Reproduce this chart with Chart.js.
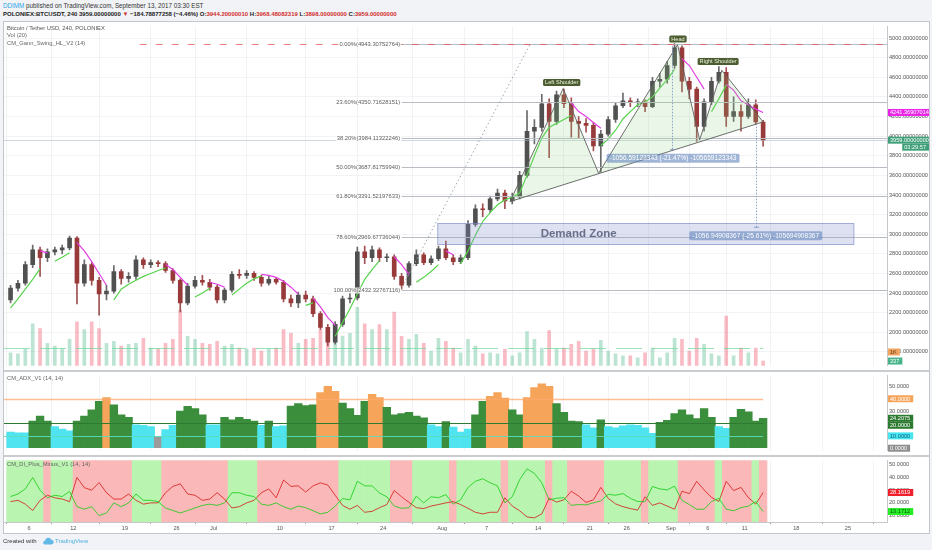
<!DOCTYPE html>
<html>
<head>
<meta charset="utf-8">
<script src="https://cdn.jsdelivr.net/npm/chart.js@4.4.1/dist/chart.umd.min.js"></script>
<style>
  body { margin: 0; width: 932px; height: 550px; background: #f1f3f6; position: relative; overflow: hidden;
         font-family: "Liberation Sans", Arial, sans-serif; }
  .abs { position: absolute; white-space: nowrap; }
  #frame { left: 3px; top: 21px; width: 927px; height: 513px; box-sizing: border-box; border: 1px solid #c3c7cc; background: #fff; }
  canvas { position: absolute; left: 0; }
  .sep { position: absolute; left: 4px; width: 925px; height: 1.5px; background: #c9cdd2; }
  .legend { font-size: 5.8px; color: #666; line-height: 7.8px; }
</style>
</head>
<body>
<div class="abs" style="left:3px;top:1.5px;font-size:6.3px;color:#333;"><span style="color:#2ea7e6">DDIMM</span> published on TradingView.com, September 13, 2017 03:30 EST</div>
<div class="abs" style="left:3px;top:10.5px;font-size:6px;font-weight:bold;color:#222;">POLONIEX:BTCUSDT, 240 3959.00000000 <span style="color:#d32f2f">&#9660;</span> &minus;184.78877258 (&minus;4.46%) O:<span style="color:#d32f2f">3944.20000010</span> H:<span style="color:#d32f2f">3968.48082319</span> L:<span style="color:#d32f2f">3898.00000000</span> C:<span style="color:#d32f2f">3959.00000000</span></div>
<div id="frame" class="abs"></div>
<canvas id="cMain" width="932" height="348" style="top:22px"></canvas>
<div class="sep" style="top:370px"></div>
<canvas id="cAdx" width="932" height="84" style="top:371px"></canvas>
<div class="sep" style="top:455px"></div>
<canvas id="cDi" width="932" height="77" style="top:456px"></canvas>
<div class="abs legend" style="left:7px;top:24.5px;"><span style="color:#555">Bitcoin / Tether USD, 240, POLONIEX</span><br>Vol (20)<br>CM_Gann_Swing_HL_V2 (14)</div>
<div class="abs legend" style="left:7px;top:374.5px;">CM_ADX_V1 (14, 14)</div>
<div class="abs legend" style="left:7px;top:460.5px;">CM_DI_Plus_Minus_V1 (14, 14)</div>
<div class="abs" style="left:3px;top:537.5px;font-size:6px;color:#333;">Created with</div>
<svg class="abs" style="left:42px;top:537px" width="12" height="8" viewBox="0 0 12 8"><path d="M3 7.5h6.3a2.4 2.4 0 0 0 0-4.8 3.3 3.3 0 0 0-6.3 1A1.9 1.9 0 0 0 3 7.5z" fill="#62b9e6"/></svg>
<div class="abs" style="left:55px;top:537.5px;font-size:6px;color:#4fb0e3;">TradingView</div>

<script>
// daily candles, day numbers counted from Jun 1 2017 (first candle = Jun 3)
const firstDay = 2;
const opens = [
  2330, 2450, 2500, 2690, 2840, 2760, 2820, 2840, 2860, 2960,
  2500, 2690, 2530, 2390, 2420, 2620, 2550, 2570, 2740, 2690,
  2710, 2700, 2630, 2530, 2300, 2470, 2530, 2510, 2460, 2330,
  2430, 2590, 2580, 2600, 2560, 2500, 2540, 2510, 2340, 2300,
  2380, 2340, 2190, 2050, 1900, 2080, 2340, 2350, 2820, 2760,
  2840, 2760, 2770, 2570, 2480, 2700, 2790, 2710, 2750, 2850,
  2760, 2720, 2760, 3100, 3260, 3250, 3360, 3420, 3340, 3380,
  3600, 4050, 4090, 4330, 4150, 4420, 4330, 4150, 4130, 4110,
  3900, 4020, 4170, 4310, 4360, 4340, 4350, 4300, 4560, 4580,
  4720, 4900, 4560, 4480, 4100, 4350, 4560, 4650, 4200, 4250,
  4200, 4320, 4144
];
const highs = [
  2480, 2530, 2720, 2890, 2870, 2850, 2870, 2890, 2980, 2975,
  2740, 2710, 2560, 2480, 2680, 2640, 2610, 2780, 2760, 2740,
  2730, 2720, 2650, 2545, 2500, 2570, 2580, 2540, 2480, 2450,
  2620, 2640, 2630, 2620, 2580, 2570, 2560, 2530, 2380, 2410,
  2420, 2370, 2210, 2080, 2110, 2370, 2410, 2870, 2880, 2880,
  2860, 2800, 2790, 2600, 2720, 2840, 2810, 2780, 2880, 2930,
  2790, 2790, 3140, 3300, 3310, 3390, 3460, 3450, 3420, 3640,
  4260, 4170, 4427, 4380, 4460, 4480, 4390, 4200, 4180, 4140,
  4060, 4200, 4340, 4440, 4390, 4380, 4370, 4600, 4640, 4760,
  4943, 4920, 4600, 4500, 4380, 4600, 4708, 4700, 4400, 4320,
  4380, 4370, 4160
];
const lows = [
  2300, 2420, 2480, 2660, 2570, 2720, 2790, 2800, 2840, 2290,
  2470, 2480, 2174, 2330, 2400, 2490, 2510, 2540, 2650, 2660,
  2670, 2610, 2500, 2207, 2280, 2450, 2480, 2430, 2300, 2300,
  2410, 2550, 2550, 2530, 2470, 2480, 2490, 2310, 2260, 2250,
  2310, 2160, 2030, 1860, 1880, 2060, 2300, 2330, 2700, 2720,
  2720, 2720, 2540, 2440, 2460, 2680, 2690, 2690, 2730, 2740,
  2690, 2700, 2740, 3080, 3180, 3220, 3340, 3260, 3310, 3360,
  3580, 3920, 4050, 3780, 4120, 4290, 3990, 3980, 4040, 3850,
  3632, 4000, 4140, 4290, 4300, 4300, 4250, 4290, 4500, 4540,
  4690, 4450, 4380, 3946, 4050, 4320, 4540, 4100, 4150, 4050,
  4180, 4120, 3898
];
const closes = [
  2450, 2500, 2690, 2840, 2760, 2820, 2840, 2860, 2960, 2500,
  2690, 2530, 2390, 2420, 2620, 2550, 2570, 2740, 2690, 2710,
  2700, 2630, 2530, 2300, 2470, 2530, 2510, 2460, 2330, 2430,
  2590, 2580, 2600, 2560, 2500, 2540, 2510, 2340, 2300, 2380,
  2340, 2190, 2050, 1900, 2080, 2340, 2350, 2820, 2760, 2840,
  2760, 2770, 2570, 2480, 2700, 2790, 2710, 2750, 2850, 2760,
  2720, 2760, 3100, 3260, 3250, 3360, 3420, 3340, 3380, 3600,
  4050, 4090, 4330, 4150, 4420, 4330, 4150, 4130, 4110, 3900,
  4020, 4170, 4310, 4360, 4340, 4350, 4300, 4560, 4580, 4720,
  4900, 4560, 4480, 4100, 4350, 4560, 4650, 4200, 4250, 4200,
  4320, 4144, 3959
];
const volumes = [
  930, 860, 1210, 3070, 2710, 1640, 1430, 1210, 1930, 3210,
  2640, 3210, 2710, 1640, 1790, 1430, 1570, 1640, 2000, 1290,
  1210, 1640, 1930, 4070, 2140, 1930, 1640, 1570, 1790, 1430,
  1570, 1290, 1210, 1290, 1070, 1210, 1290, 2640, 2360, 1640,
  1930, 2000, 2640, 2710, 2360, 2140, 2360, 4280, 3070, 2640,
  3000, 2640, 3930, 2140, 1930, 2290, 1640, 1070, 2000, 1790,
  1290, 930, 1930, 1430, 860, 930, 860, 1210, 710, 930,
  2500, 1930, 1290, 2570, 1210, 1290, 1570, 1790, 1070, 1210,
  1860, 1070, 860, 710, 710, 570, 930, 1290, 570, 930,
  2000, 1930, 1070, 2000, 1570, 860, 710, 3640, 710, 1290,
  930, 1290, 337
];
// CM_Gann_Swing_HL line: green while swinging up, magenta while swinging down
const gannUp = [
  2250, 2340, 2440, 2540, 2650, null, 2725, 2765, 2810, null,
  null, null, null, null, 2330, 2440, 2490, 2530, 2570, 2600,
  2630, 2655, null, null, null, 2360, 2400, 2450, null, null,
  2380, 2440, 2500, 2545, 2575, null, null, null, null, null,
  2275, 2300, null, null, 1960, 2100, 2240, 2390, 2540, 2640,
  2730, null, null, null, null, 2510, 2560, 2620, 2690, null,
  null, 2700, 2830, 2990, 3130, 3220, 3300, 3350, 3380, 3420,
  3600, 3800, 3980, 4090, 4130, 4170, 4210, null, null, null,
  3905, 3970, 4060, 4175, 4250, 4320, 4350, 4400, 4490, 4575,
  4680, null, null, null, null, 4250, 4380, 4520, null, null,
  null, null, null
];
const gannDown = [
  null, null, null, null, 2830, 2810, null, null, null, 2915,
  2830, 2720, 2600, 2480, null, null, null, null, null, null,
  null, 2690, 2640, 2560, 2480, null, null, 2510, 2490, 2460,
  null, null, null, null, 2590, 2580, 2560, 2520, 2460, 2390,
  null, 2350, 2260, 2150, 2070, null, null, null, null, null,
  null, null, 2770, 2690, 2590, null, null, null, null, 2830,
  2790, null, null, null, null, null, null, null, null, null,
  null, null, null, null, null, null, 4340, 4250, 4200, 4140,
  4080, null, null, null, null, null, null, null, null, null,
  null, 4790, 4720, 4600, 4480, null, null, 4530, 4470, 4360,
  4320, 4275, 4241.37
];
const adx = [
  13, 12.5, 12.5, 22, 26, 22, 17.5, 15.5, 14, 22,
  26, 31, 38, 41, 35, 27, 25, 19, 18.6, 17.5,
  9.5, 15, 18.6, 30, 33.8, 32, 27, 19, 19, 25,
  23, 25, 23.4, 22, 18.6, 22, 17.5, 18, 34, 36,
  34.5, 35, 45, 50, 46, 36.5, 32, 26.5, 38, 43.5,
  41, 33, 27, 28, 29, 26, 24.6, 19, 17.4, 21.5,
  17, 13, 15.5, 27, 38, 42, 45, 40.5, 31, 27,
  41, 49, 52, 50, 36, 29, 22, 21.5, 19, 16.5,
  23, 17.5, 16.5, 18, 19, 18.5, 16.5, 12, 21, 22.5,
  28, 31, 27, 24, 32, 25, 17.5, 16, 25, 31.5,
  29.5, 22, 24.2075
];
const diPlus = [
  25, 27, 31, 40, 30, 24, 26, 25, 29, 17,
  15, 17, 10, 12, 20, 17, 20, 27, 22, 22,
  21, 16, 14, 12, 14, 16, 18, 19, 18, 20,
  28, 28, 26, 25, 19, 18, 20, 17, 15, 17.5,
  16.2, 13.8, 11.3, 12.6, 17.5, 23.4, 22.4, 37, 33.4, 33.4,
  27.8, 24.8, 17.5, 15.7, 16.2, 25.3, 20, 24.8, 24.1, 26.5,
  19, 22.4, 32.2, 37, 39, 35.8, 33.4, 20, 24.8, 38.3,
  46.9, 43.2, 35.8, 22.4, 23.6, 24.1, 18, 18.7, 18.4, 20,
  21.6, 26.8, 26, 27.3, 23.6, 21.1, 20.9, 32.9, 31, 30.2,
  33.2, 21.9, 18.7, 15, 15, 21.1, 23.6, 15, 13.8, 16.2,
  17.5, 21, 13.1712
];
const diMinus = [
  21, 22, 19, 14, 22, 26, 24, 23, 21, 40,
  32, 30, 36, 28, 23, 23, 27, 22, 19, 20,
  20, 28, 33, 35, 27, 26, 22, 23, 28, 23,
  16, 17, 20, 22, 28, 31, 24, 38, 33, 33.4,
  28.5, 33.4, 35.8, 34, 26, 18, 15, 18, 12.6, 13.3,
  16.2, 18.7, 29.7, 24.8, 20.4, 16.2, 15.5, 17.5, 18.7, 20,
  21, 18.7, 15.7, 12.6, 11.3, 12.6, 12.6, 24, 17.5, 13.8,
  8.9, 8.2, 11.3, 23.6, 20.6, 22.4, 29.2, 25.3, 20.4, 22.4,
  32.2, 23.6, 19.2, 17, 15.5, 14.3, 24.8, 18, 20, 17.5,
  15, 29.2, 27.3, 37, 30.2, 24.3, 21.1, 37, 29.7, 32.2,
  24.1, 19, 28.1619
];
const tickDays = [5, 11, 18, 25, 30, 39, 46, 53, 61, 67, 74, 81, 86, 92, 97, 102, 109, 116];
const tickLabels = ['6', '12', '19', '26', 'Jul', '10', '17', '24', 'Aug', '7', '14', '21', '26', 'Sep', '6', '11', '18', '25'];
const fibPercents = ['0.00%', '23.60%', '38.20%', '50.00%', '61.80%', '78.60%', '100.00%'];
const fibValues = [4943.30752764, 4350.71628151, 3984.11322246, 3687.81759940, 3391.52197633, 2969.67736044, 2432.32767116];
const adxLevels = [40, 20, 10];

// drawings on the price pane, in day / price coordinates
const fibStartDay = 55.3, fibEndDay = 72.9;
const demandZone = { from: 60.4, to: 116.8, low: 2896, high: 3118, labelDay: 79.5, labelPrice: 3007 };
const hsPoints = [[70.2, 3333], [77.4, 4486], [82.2, 3621], [92.9, 4933], [95.9, 3963], [98.9, 4672], [104.5, 4145]];
const hsLabels = [
  { text: 'Left Shoulder', day: 77.2, price: 4548 },
  { text: 'Head', day: 92.96, price: 4990 },
  { text: 'Right Shoulder', day: 98.4, price: 4761 }
];
const measures = [
  { day: 92.2, from: 4921, to: 3864.6, text: '-1056.59123343 (-21.47%) -105659123343', boxDay: 92.3, boxPrice: 3775 },
  { day: 103.5, from: 4127, to: 3070, text: '-1056.94908367 (-25.61%) -105694908367', boxDay: 103.5, boxPrice: 2985 }
];
const swingHigh = 4943, swingHighFrom = 20, swingLow = 1840;
const lastPrice = 3959, gannLast = 4241.36907014;

const days = closes.map((_, i) => firstDay + i + 0.5);
const xMin = 1.611, xMax = 121.29;
const diMin = 4.93, diMax = 53.5;

const FONT = '"Liberation Sans", Arial, sans-serif';
Chart.defaults.font.family = FONT;
const tickFont = { size: 5.6 };

const candleColors = closes.map((c, i) => c >= opens[i] ? '#505050' : '#983a3a');
const wickColors = closes.map((c, i) => c >= opens[i] ? '#6a6a6a' : '#a05050');
const volColors = closes.map((c, i) => c >= opens[i] ? 'rgba(96,190,150,0.42)' : 'rgba(242,110,130,0.47)');
const adxColors = adx.map(v => v < 10 ? '#9a9a9a' : v < 20 ? '#4fe4ef' : v <= 40 ? '#3b8e3b' : '#f6a45a');
const diColors = diPlus.map((p, i) => p >= diMinus[i] ? '#b9f4b0' : '#fbb8b8');

function xScale(showLabels) {
  return {
    type: 'linear', min: xMin, max: xMax, offset: false,
    afterBuildTicks: a => { a.ticks = tickDays.map(v => ({ value: v })); },
    afterFit: a => { a.height = showLabels ? 11 : 0; },
    ticks: { display: showLabels, autoSkip: false, maxRotation: 0, font: tickFont, color: '#555', padding: 1,
             callback: v => tickLabels[tickDays.indexOf(v)] },
    grid: { color: '#f0f2f5', drawTicks: showLabels, tickLength: 2, tickColor: '#9a9a9a' },
    border: { display: showLabels, color: '#c4c8cc' }
  };
}
function yScale(min, max, step, digits, grid) {
  return {
    position: 'right', min: min, max: max,
    afterFit: a => { a.width = 42; },
    ticks: { stepSize: step, includeBounds: false, font: tickFont, color: '#555', padding: 1,
             callback: v => v.toFixed(digits) },
    grid: { color: '#f1f3f6', drawOnChartArea: grid, tickLength: 1, tickColor: '#9a9a9a' },
    border: { color: '#c4c8cc' }
  };
}
const baseOptions = {
  responsive: false, animation: false, events: [],
  layout: { padding: { left: 4, right: 3, top: 0, bottom: 0 } },
  plugins: { legend: { display: false }, tooltip: { enabled: false } }
};

function seg(ctx, x1, y1, x2, y2) {
  ctx.beginPath(); ctx.moveTo(x1, y1); ctx.lineTo(x2, y2); ctx.stroke();
}
function tag(ctx, cx, cy, text, bg, fg, font, h, pad) {
  ctx.font = font;
  const w = ctx.measureText(text).width + pad * 2;
  ctx.fillStyle = bg;
  ctx.beginPath();
  if (ctx.roundRect) ctx.roundRect(cx - w / 2, cy - h / 2, w, h, 1.5); else ctx.rect(cx - w / 2, cy - h / 2, w, h);
  ctx.fill();
  ctx.fillStyle = fg; ctx.textAlign = 'center'; ctx.textBaseline = 'middle';
  ctx.fillText(text, cx, cy + 0.3);
}
function axisBoxes(chart, items) {
  const { ctx, chartArea: a } = chart;
  ctx.save();
  ctx.font = '5.6px ' + FONT;
  ctx.textBaseline = 'middle'; ctx.textAlign = 'left';
  let prev = -Infinity;
  items.map(it => Object.assign({}, it, { yp: chart.scales[it.axis || 'y'].getPixelForValue(it.value) + (it.dy || 0) }))
    .sort((p, q) => p.yp - q.yp)
    .forEach(it => {
      const yp = Math.max(it.yp, prev + 7);
      const w = it.full ? 41 : ctx.measureText(it.text).width + 5;
      const left = it.alignRight ? a.right + 42 - w : a.right + 1;
      ctx.fillStyle = it.bg; ctx.fillRect(left, yp - 3.5, w, 7);
      ctx.fillStyle = it.fg; ctx.fillText(it.text, left + 2, yp + 0.3);
      prev = yp;
    });
  ctx.restore();
}

const mainDrawings = {
  id: 'mainDrawings',
  afterDatasetsDraw(chart) {
    const { ctx, chartArea: a, scales: { x, y } } = chart;
    const px = d => x.getPixelForValue(d);
    const py = v => Math.round(y.getPixelForValue(v)) + 0.5;
    ctx.save();
    ctx.beginPath(); ctx.rect(a.left, a.top, a.width, a.height); ctx.clip();
    ctx.lineWidth = 1;

    ctx.setLineDash([26, 10]); ctx.strokeStyle = 'rgba(110,215,150,0.7)';
    seg(ctx, a.left, py(swingLow), px(days[days.length - 1]), py(swingLow));
    ctx.setLineDash([]); ctx.strokeStyle = 'rgba(170,185,200,0.55)';
    seg(ctx, a.left, py(lastPrice), a.right, py(lastPrice));

    // fibonacci retracement lines
    ctx.strokeStyle = '#b9bdc3';
    fibValues.forEach(v => seg(ctx, px(fibStartDay) + 1.5, py(v), a.right, py(v)));
    ctx.setLineDash([1.5, 2.5]); ctx.strokeStyle = '#9da3aa';
    seg(ctx, px(fibStartDay), py(fibValues[6]), px(fibEndDay), py(fibValues[0]));

    // swing-high marks along the top
    ctx.setLineDash([7, 9]); ctx.strokeStyle = 'rgba(226,84,84,0.75)';
    seg(ctx, px(swingHighFrom), py(swingHigh), a.right, py(swingHigh));
    ctx.setLineDash([]);

    // fibonacci labels, on a white backing so the dashes do not cross them
    ctx.font = '5.8px ' + FONT; ctx.textAlign = 'right'; ctx.textBaseline = 'middle';
    fibValues.forEach((v, i) => {
      const t = fibPercents[i] + '(' + v.toFixed(8) + ')';
      const w = ctx.measureText(t).width;
      ctx.fillStyle = 'rgba(255,255,255,0.85)';
      ctx.fillRect(px(fibStartDay) - w - 1, py(v) - 3, w + 2, 6);
      ctx.fillStyle = '#5d5d5d';
      ctx.fillText(t, px(fibStartDay), py(v));
    });

    // demand zone
    const zx1 = px(demandZone.from), zx2 = px(demandZone.to);
    const zy1 = py(demandZone.high), zy2 = py(demandZone.low);
    ctx.fillStyle = 'rgba(130,145,205,0.27)'; ctx.fillRect(zx1, zy1, zx2 - zx1, zy2 - zy1);
    ctx.strokeStyle = 'rgba(120,135,195,0.65)'; ctx.strokeRect(zx1, zy1, zx2 - zx1, zy2 - zy1);
    ctx.font = 'bold 11.5px ' + FONT; ctx.fillStyle = 'rgba(92,100,126,0.9)'; ctx.textAlign = 'center';
    ctx.fillText('Demand Zone', px(demandZone.labelDay), y.getPixelForValue(demandZone.labelPrice));

    // head and shoulders
    ctx.beginPath();
    hsPoints.forEach(([d, v], i) => i ? ctx.lineTo(px(d), y.getPixelForValue(v)) : ctx.moveTo(px(d), y.getPixelForValue(v)));
    ctx.closePath();
    ctx.fillStyle = 'rgba(140,210,130,0.18)'; ctx.fill();
    ctx.strokeStyle = '#5c5f5c'; ctx.lineWidth = 0.9; ctx.stroke();
    hsLabels.forEach(l => tag(ctx, px(l.day), y.getPixelForValue(l.price), l.text, '#4b5d30', '#eef3df', '5.6px ' + FONT, 7, 2));

    // price range measurements
    measures.forEach(m => {
      const mx = Math.round(px(m.day)) + 0.5;
      ctx.setLineDash([1.5, 1.5]); ctx.strokeStyle = '#8ea2c6'; ctx.lineWidth = 1;
      seg(ctx, mx, y.getPixelForValue(m.from), mx, y.getPixelForValue(m.to));
      ctx.setLineDash([]);
      seg(ctx, mx - 2.5, y.getPixelForValue(m.to), mx + 2.5, y.getPixelForValue(m.to));
      tag(ctx, px(m.boxDay), y.getPixelForValue(m.boxPrice), m.text, 'rgba(104,137,190,0.62)', '#ffffff', '6.6px ' + FONT, 9, 3);
    });
    ctx.restore();
  },
  afterDraw(chart) {
    axisBoxes(chart, [
      { value: gannLast, text: gannLast.toFixed(8), bg: '#ea22ea', fg: '#fff', full: true },
      { value: lastPrice, text: lastPrice.toFixed(8), bg: '#3e9f78', fg: '#fff', full: true },
      { value: lastPrice, dy: 7, text: '03:29:57', bg: '#3e9f78', fg: '#fff', alignRight: true },
      { axis: 'yv', value: 1000, text: '1K', bg: '#f2a35e', fg: '#5a3510' },
      { axis: 'yv', value: volumes[volumes.length - 1], text: String(volumes[volumes.length - 1]), bg: '#46b38a', fg: '#fff' }
    ]);
  }
};

const adxDrawings = {
  id: 'adxDrawings',
  afterDatasetsDraw(chart) {
    const { ctx, chartArea: a, scales: { x, y } } = chart;
    const colors = ['rgba(255,170,110,0.75)', '#2f7a33', 'rgba(90,220,190,0.9)'];
    const widths = [1.6, 1, 1];
    ctx.save();
    adxLevels.forEach((v, i) => {
      ctx.strokeStyle = colors[i]; ctx.lineWidth = widths[i];
      const yp = Math.round(y.getPixelForValue(v)) + 0.5;
      seg(ctx, a.left, yp, x.getPixelForValue(days[days.length - 1]), yp);
    });
    ctx.restore();
  },
  afterDraw(chart) {
    axisBoxes(chart, [
      { value: 40, text: '40.0000', bg: '#f6a45a', fg: '#fff' },
      { value: adx[adx.length - 1], text: adx[adx.length - 1].toFixed(4), bg: '#2c7a2f', fg: '#fff' },
      { value: 20, text: '20.0000', bg: '#2c7a2f', fg: '#fff' },
      { value: 10, text: '10.0000', bg: '#45e6f2', fg: '#1b5c7a' },
      { value: 0, text: '0.0000', bg: '#8e8e8e', fg: '#fff' }
    ]);
  }
};

const diDrawings = {
  id: 'diDrawings',
  afterDraw(chart) {
    axisBoxes(chart, [
      { value: diMinus[diMinus.length - 1], text: diMinus[diMinus.length - 1].toFixed(4), bg: '#f01f2c', fg: '#fff' },
      { value: diPlus[diPlus.length - 1], text: diPlus[diPlus.length - 1].toFixed(4), bg: '#26ee26', fg: '#145214' }
    ]);
  }
};

new Chart(document.getElementById('cMain'), {
  type: 'bar',
  data: {
    datasets: [
      { label: 'Wicks', data: days.map((d, i) => ({ x: d, y: [lows[i], highs[i]] })), backgroundColor: wickColors,
        barThickness: 1, grouped: false, order: 2 },
      { label: 'Bodies', data: days.map((d, i) => ({ x: d, y: [opens[i], closes[i]] })), backgroundColor: candleColors,
        barThickness: 4, grouped: false, order: 1 },
      { label: 'Vol', yAxisID: 'yv', data: days.map((d, i) => ({ x: d, y: volumes[i] })), backgroundColor: volColors,
        barThickness: 3, grouped: false, order: 5 },
      { type: 'line', label: 'Gann up', data: days.map((d, i) => ({ x: d, y: gannUp[i] })), borderColor: '#56d34a',
        borderWidth: 1.2, pointRadius: 0, spanGaps: false, order: 0 },
      { type: 'line', label: 'Gann down', data: days.map((d, i) => ({ x: d, y: gannDown[i] })), borderColor: '#e23de2',
        borderWidth: 1.2, pointRadius: 0, spanGaps: false, order: 0 }
    ]
  },
  options: Object.assign({}, baseOptions, {
    scales: {
      x: xScale(false),
      y: yScale(1660, 5119.3, 200, 8, true),
      yv: { display: false, min: 0, max: 24857 }
    }
  }),
  plugins: [mainDrawings]
});

new Chart(document.getElementById('cAdx'), {
  type: 'bar',
  data: {
    datasets: [
      { label: 'ADX', data: days.map((d, i) => ({ x: d, y: adx[i] })), backgroundColor: adxColors,
        barThickness: 7.7, grouped: false, borderWidth: 0 }
    ]
  },
  options: Object.assign({}, baseOptions, {
    scales: { x: xScale(false), y: yScale(-1.96, 58.9, 10, 4, false) }
  }),
  plugins: [adxDrawings]
});

new Chart(document.getElementById('cDi'), {
  type: 'bar',
  data: {
    datasets: [
      { type: 'line', label: 'DI+', data: days.map((d, i) => ({ x: d, y: diPlus[i] })), borderColor: 'rgba(20,205,20,0.8)',
        borderWidth: 1, pointRadius: 0, order: 1 },
      { type: 'line', label: 'DI-', data: days.map((d, i) => ({ x: d, y: diMinus[i] })), borderColor: 'rgba(215,25,25,0.8)',
        borderWidth: 1, pointRadius: 0, order: 1 },
      { label: 'Trend', data: days.map(d => ({ x: d, y: [diMin, diMax] })), backgroundColor: diColors,
        barThickness: 7.7, grouped: false, borderWidth: 0, order: 3 }
    ]
  },
  options: Object.assign({}, baseOptions, {
    scales: { x: xScale(true), y: yScale(diMin, diMax, 10, 4, false) }
  }),
  plugins: [diDrawings]
});
</script>
</body>
</html>
